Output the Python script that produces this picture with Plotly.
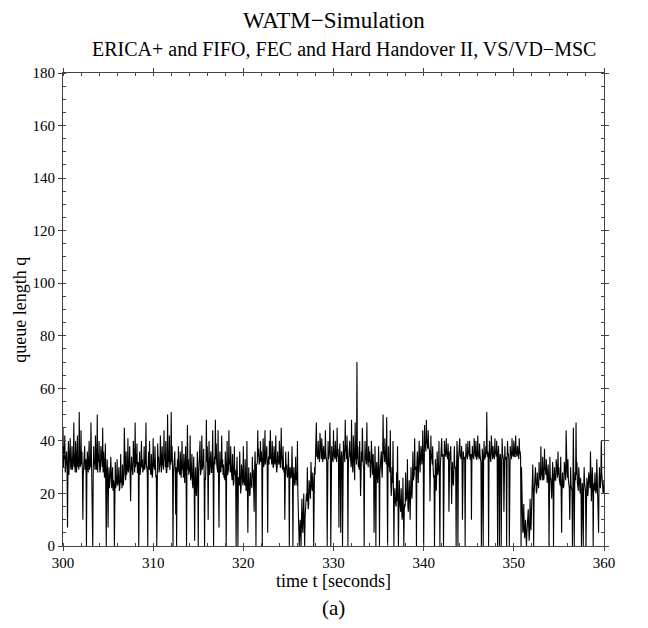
import plotly.graph_objects as go

# queue length samples: 10 "upper" samples per second
# (rows = seconds 300..359, last value at t=360)
q_300_309 = [
    45, 38, 42, 30, 36, 7, 40, 32, 41, 29,
    38, 31, 47, 35, 40, 28, 42, 33, 51, 30,
    44, 36, 10, 34, 38, 30, 0, 36, 28, 40,
    32, 47, 30, 0, 38, 33, 42, 29, 50, 35,
    40, 28, 38, 31, 45, 36, 26, 39, 0, 33,
    7, 30, 24, 34, 22, 30, 25, 0, 32, 23,
    33, 24, 30, 22, 35, 26, 31, 23, 45, 28,
    36, 28, 41, 30, 38, 17, 34, 29, 40, 32,
    47, 35, 39, 28, 0, 36, 30, 40, 33, 29,
    38, 31, 47, 30, 0, 36, 40, 29, 35, 26,
]
q_310_319 = [
    41, 33, 38, 26, 0, 39, 34, 30, 42, 28,
    38, 31, 44, 35, 40, 28, 50, 36, 42, 33,
    51, 38, 0, 30, 36, 12, 0, 33, 38, 28,
    36, 26, 40, 31, 35, 24, 38, 0, 46, 33,
    30, 42, 26, 35, 22, 34, 2, 30, 19, 36,
    0, 33, 40, 28, 42, 31, 37, 0, 25, 48,
    38, 10, 40, 31, 36, 28, 44, 0, 34, 48,
    39, 30, 44, 7, 36, 28, 42, 33, 31, 27,
    36, 0, 40, 28, 44, 33, 38, 26, 35, 23,
    38, 29, 0, 34, 0, 26, 36, 20, 31, 24,
]
q_320_329 = [
    38, 26, 33, 21, 40, 5, 30, 19, 28, 24,
    34, 29, 13, 36, 0, 31, 44, 37, 33, 40,
    36, 0, 41, 31, 44, 35, 38, 5, 34, 40,
    44, 34, 40, 30, 38, 31, 42, 28, 36, 32,
    40, 30, 45, 34, 38, 28, 10, 36, 31, 26,
    36, 0, 30, 26, 38, 0, 30, 23, 34, 28,
    40, 15, 0, 10, 0, 18, 5, 20, 0, 14,
    20, 30, 14, 25, 18, 32, 22, 28, 0, 30,
    34, 47, 36, 40, 33, 43, 35, 41, 32, 38,
    36, 44, 34, 0, 40, 35, 47, 0, 38, 33,
]
q_330_339 = [
    44, 36, 40, 33, 45, 37, 7, 39, 5, 36,
    0, 40, 35, 48, 38, 42, 0, 36, 40, 33,
    48, 30, 42, 26, 47, 35, 70, 38, 32, 40,
    19, 36, 45, 31, 0, 40, 33, 47, 30, 38,
    36, 26, 40, 30, 35, 5, 38, 0, 32, 24,
    38, 0, 30, 36, 26, 50, 36, 41, 31, 49,
    0, 38, 31, 44, 19, 30, 40, 0, 22, 16,
    28, 38, 0, 25, 14, 22, 10, 26, 0, 16,
    28, 20, 33, 13, 25, 10, 30, 18, 36, 26,
    41, 30, 0, 36, 24, 40, 28, 38, 31, 44,
]
q_340_349 = [
    0, 46, 38, 48, 40, 44, 36, 17, 42, 35,
    38, 26, 0, 33, 21, 36, 28, 40, 0, 35,
    41, 35, 0, 40, 36, 41, 35, 39, 13, 36,
    38, 16, 32, 23, 38, 30, 0, 40, 0, 35,
    41, 35, 38, 10, 36, 33, 0, 39, 35, 40,
    36, 40, 33, 10, 38, 34, 41, 35, 40, 33,
    42, 35, 39, 33, 0, 37, 0, 40, 34, 38,
    51, 36, 0, 40, 33, 42, 35, 38, 34, 41,
    36, 40, 0, 38, 0, 35, 0, 41, 34, 13,
    38, 33, 0, 40, 35, 0, 38, 36, 41, 34,
]
q_350_360 = [
    40, 34, 42, 35, 38, 33, 41, 36, 0, 12,
    5, 16, 3, 10, 0, 8, 14, 2, 18, 6,
    22, 31, 0, 26, 30, 20, 28, 24, 32, 26,
    38, 28, 34, 25, 37, 30, 33, 24, 31, 0,
    34, 26, 18, 32, 0, 30, 25, 33, 28, 36,
    30, 24, 34, 5, 28, 22, 32, 26, 44, 28,
    33, 24, 10, 30, 22, 0, 45, 0, 28, 47,
    32, 22, 30, 20, 26, 0, 24, 0, 30, 21,
    0, 26, 19, 28, 23, 36, 17, 30, 0, 24,
    28, 20, 33, 24, 5, 30, 22, 40, 26, 20,
    25,
]

# lower edge of the dense band, read between the samples above (rows = seconds 300..359)
low_300_319 = [
    30, 33, 28, 34, 29, 31, 27, 35, 30, 32,
    29, 33, 30, 28, 32, 35, 30, 29, 34, 31,
    31, 28, 27, 30, 29, 33, 28, 31, 34, 29,
    30, 33, 28, 27, 31, 29, 34, 30, 28, 32,
    31, 29, 33, 30, 28, 32, 30, 27, 29, 26,
    24, 22, 27, 23, 25, 21, 24, 26, 22, 25,
    23, 26, 21, 25, 24, 22, 26, 27, 29, 25,
    27, 30, 28, 31, 26, 29, 30, 27, 31, 28,
    30, 31, 28, 32, 29, 27, 31, 30, 28, 30,
    29, 32, 30, 27, 31, 29, 30, 27, 30, 28,
    30, 29, 31, 27, 30, 32, 28, 31, 29, 30,
    31, 29, 33, 30, 28, 31, 30, 32, 29, 31,
    32, 29, 28, 31, 27, 30, 29, 28, 30, 27,
    27, 30, 29, 26, 30, 28, 27, 31, 29, 27,
    28, 25, 29, 24, 27, 22, 25, 21, 26, 27,
    28, 30, 27, 31, 29, 30, 28, 26, 30, 32,
    29, 31, 27, 30, 28, 32, 29, 30, 31, 33,
    31, 28, 30, 27, 29, 31, 30, 27, 26, 25,
    28, 30, 27, 29, 31, 28, 30, 25, 27, 24,
    27, 25, 28, 24, 26, 23, 27, 22, 25, 23,
]
low_320_339 = [
    24, 23, 26, 22, 25, 21, 24, 20, 23, 22,
    26, 24, 28, 29, 31, 32, 34, 31, 33, 32,
    31, 33, 30, 34, 31, 33, 30, 32, 31, 33,
    33, 31, 34, 30, 32, 33, 31, 30, 32, 31,
    32, 30, 33, 29, 31, 30, 28, 29, 27, 28,
    27, 29, 26, 28, 27, 25, 26, 24, 25, 23,
    20, 8, 5, 6, 10, 8, 12, 9, 11, 13,
    17, 19, 16, 20, 18, 22, 21, 24, 23, 27,
    32, 34, 33, 35, 32, 36, 33, 35, 34, 33,
    33, 35, 32, 34, 33, 36, 35, 33, 34, 32,
    34, 33, 35, 32, 34, 33, 31, 33, 32, 34,
    33, 35, 32, 36, 33, 35, 31, 33, 34, 30,
    33, 28, 31, 25, 33, 31, 33, 30, 29, 31,
    26, 32, 31, 29, 30, 33, 31, 34, 30, 32,
    30, 28, 31, 27, 29, 30, 28, 29, 27, 28,
    30, 28, 31, 29, 33, 35, 32, 34, 31, 33,
    31, 30, 28, 25, 22, 24, 21, 18, 17, 15,
    17, 16, 14, 17, 13, 15, 12, 16, 14, 15,
    17, 18, 15, 19, 17, 20, 21, 23, 25, 27,
    29, 30, 32, 31, 33, 34, 33, 35, 34, 36,
]
low_340_359 = [
    37, 38, 36, 39, 37, 38, 36, 35, 33, 31,
    30, 27, 28, 26, 29, 27, 30, 28, 30, 33,
    34, 35, 33, 36, 34, 35, 33, 35, 34, 33,
    30, 27, 25, 28, 30, 29, 31, 33, 32, 34,
    34, 33, 35, 32, 33, 34, 32, 34, 33, 35,
    34, 33, 35, 32, 34, 33, 35, 34, 33, 35,
    34, 33, 35, 32, 33, 34, 32, 33, 34, 35,
    34, 35, 33, 34, 32, 35, 33, 34, 33, 35,
    34, 35, 33, 34, 32, 33, 34, 35, 33, 31,
    33, 34, 32, 35, 33, 34, 35, 33, 35, 34,
    35, 34, 36, 34, 35, 33, 35, 34, 30, 10,
    6, 8, 5, 7, 5, 6, 7, 5, 9, 12,
    18, 21, 20, 22, 24, 21, 23, 22, 26, 25,
    27, 25, 28, 26, 29, 27, 28, 26, 27, 26,
    25, 23, 24, 26, 24, 27, 25, 28, 26, 27,
    25, 23, 26, 22, 24, 23, 27, 25, 28, 26,
    25, 22, 24, 23, 21, 24, 26, 23, 25, 27,
    24, 21, 23, 20, 22, 21, 20, 22, 24, 21,
    22, 24, 21, 25, 22, 26, 23, 25, 22, 21,
    23, 21, 25, 22, 24, 23, 25, 28, 22, 21,
]

t_start = 300.0
samples_per_second = 10
upper = q_300_309 + q_310_319 + q_320_329 + q_330_339 + q_340_349 + q_350_360
lower = low_300_319 + low_320_339 + low_340_359

time, queue = [], []
for i, v in enumerate(upper):
    time.append(t_start + i / samples_per_second)
    queue.append(v)
    if i < len(lower):
        time.append(t_start + (i + 0.5) / samples_per_second)
        queue.append(lower[i])

x_ticks = [300, 310, 320, 330, 340, 350, 360]
y_ticks = [0, 20, 40, 60, 80, 100, 120, 140, 160, 180]

title_text = "WATM\u2212Simulation"
subtitle_text = "ERICA+ and FIFO, FEC and Hard Handover II, VS/VD\u2212MSC"
x_title = "time t [seconds]"
y_title = "queue length q"
caption = "(a)"

serif = "Liberation Serif"

fig = go.Figure()
fig.add_trace(go.Scatter(
    x=time, y=queue, mode="lines",
    line=dict(color="black", width=1.1),
    hoverinfo="skip", showlegend=False,
))

axis_common = dict(
    showgrid=False, zeroline=False, showline=True, linecolor="#444",
    linewidth=1, mirror="allticks", ticks="outside", ticklen=4,
    tickcolor="#444", automargin=False,
    tickfont=dict(family=serif, size=15, color="black"),
)

fig.update_xaxes(
    range=[300, 360], tickvals=x_ticks, ticklabelstandoff=-1, **axis_common,
    minor=dict(ticks="inside", ticklen=3, dtick=2, tickcolor="#444"),
)
fig.update_yaxes(
    range=[0, 180], tickvals=y_ticks, **axis_common,
    minor=dict(ticks="inside", ticklen=3, dtick=5, tickcolor="#444"),
)

ann = [
    dict(text=title_text, x=0.5, y=1.112, font=dict(size=23)),
    dict(text=subtitle_text, x=0.52, y=1.05, font=dict(size=20)),
    dict(text=x_title, x=0.5, y=-0.073, font=dict(size=18)),
    dict(text=caption, x=0.5, y=-0.131, font=dict(size=21)),
    dict(text=y_title, x=-0.081, y=0.5, font=dict(size=18), textangle=-90),
]
for a in ann:
    a.update(xref="paper", yref="paper", showarrow=False,
             xanchor="center", yanchor="middle")
    a["font"].update(family=serif, color="black")

# the page adds an 8px body margin, so the figure is 8px smaller than the window
fig.update_layout(
    width=640, height=620,
    margin=dict(l=55, r=44, t=65, b=82),
    paper_bgcolor="white", plot_bgcolor="white",
    annotations=ann,
)

fig.write_html("out.html")
